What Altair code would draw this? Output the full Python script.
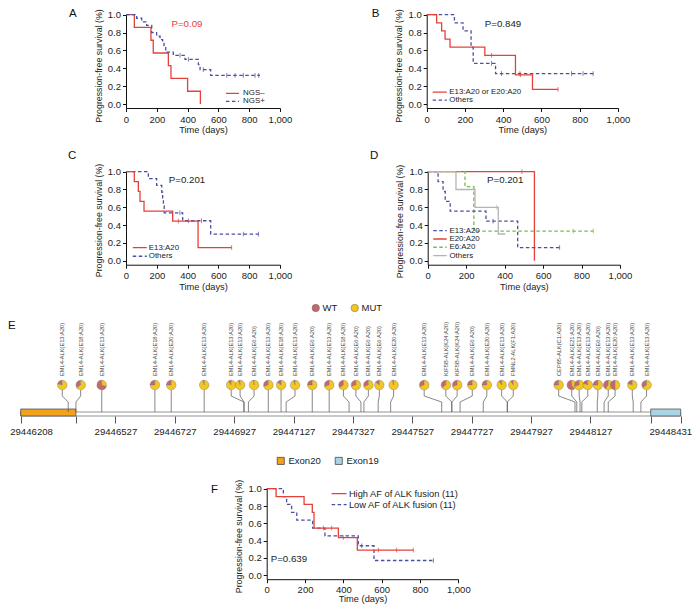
import altair as alt
import pandas as pd

# ---------------- data ----------------
time_ticks = [0, 200, 400, 600, 800, 1000]
surv_ticks = [0.0, 0.2, 0.4, 0.6, 0.8, 1.0]

# Panel A
a_neg_t = [0, 54, 162, 177, 275, 292, 400, 483]
a_neg_s = [1.0, 0.857, 0.714, 0.571, 0.429, 0.286, 0.143, 0.0]
a_neg_ct, a_neg_cs = [], []
a_pos_t = [0, 69, 102, 134, 167, 199, 221, 238, 247, 258, 307, 383, 470, 481, 550, 870]
a_pos_s = [1.0, 0.96, 0.92, 0.88, 0.80, 0.76, 0.72, 0.68, 0.64, 0.58, 0.545, 0.50, 0.44, 0.385, 0.32, 0.32]
a_pos_ct = [351, 405, 502, 654, 708, 762, 838, 862]
a_pos_cs = [0.545, 0.50, 0.385, 0.32, 0.32, 0.32, 0.32, 0.32]

# Panel B
b_red_t = [0, 52, 78, 96, 122, 304, 464, 553, 687]
b_red_s = [1.0, 0.909, 0.818, 0.727, 0.636, 0.545, 0.327, 0.164, 0.164]
b_red_ct = [339, 490, 687]
b_red_cs = [0.545, 0.327, 0.164]
b_oth_t = [0, 145, 190, 232, 243, 360, 870]
b_oth_s = [1.0, 0.909, 0.818, 0.636, 0.455, 0.341, 0.341]
b_oth_ct = [339, 391, 487, 757, 817, 870]
b_oth_cs = [0.455, 0.341, 0.341, 0.341, 0.341, 0.341]

# Panel C
c_e13_t = [0, 54, 80, 91, 117, 303, 468, 686]
c_e13_s = [1.0, 0.889, 0.778, 0.667, 0.556, 0.444, 0.148, 0.148]
c_e13_ct = [340, 686]
c_e13_cs = [0.444, 0.148]
c_oth_t = [0, 145, 199, 232, 238, 243, 248, 368, 550, 860]
c_oth_s = [1.0, 0.923, 0.846, 0.769, 0.692, 0.615, 0.538, 0.449, 0.299, 0.299]
c_oth_ct = [350, 405, 490, 762, 860]
c_oth_cs = [0.538, 0.449, 0.449, 0.299, 0.299]

# Panel D
d_e20_t = [0, 555]
d_e20_s = [1.0, 0.0]
d_e20_ct = [490]
d_e20_cs = [1.0]
d_e6_t = [0, 194, 240, 861]
d_e6_s = [1.0, 0.833, 0.333, 0.333]
d_e6_ct = [757, 861]
d_e6_cs = [0.333, 0.333]
d_e13_t = c_e13_t
d_e13_s = c_e13_s
d_e13_ct = c_e13_ct
d_e13_cs = c_e13_cs
d_oth_t = [0, 147, 246, 367, 404]
d_oth_s = [1.0, 0.8, 0.6, 0.3, 0.3]
d_oth_ct = [359]
d_oth_cs = [0.6]

# Panel F
f_high_t = [0, 49, 195, 238, 247, 374, 473, 765]
f_high_s = [1.0, 0.909, 0.818, 0.727, 0.545, 0.436, 0.291, 0.291]
f_high_ct = [296, 339, 400, 583, 678, 765]
f_high_cs = [0.545, 0.545, 0.436, 0.291, 0.291, 0.291]
f_low_t = [0, 87, 104, 130, 157, 240, 304, 478, 560, 870]
f_low_s = [1.0, 0.909, 0.818, 0.727, 0.636, 0.545, 0.455, 0.341, 0.171, 0.171]
f_low_ct = [496, 870]
f_low_cs = [0.341, 0.171]

# Panel E (gene map)
e_domain = [29446208, 29448431]
e_tick_labels = [29446208, 29446527, 29446727, 29446927, 29447127,
                 29447327, 29447527, 29447727, 29447927, 29448127, 29448431]
e_tick_blank = [29446394, 29448330]
exon_names = ["Exon20", "Exon19"]
exon_start = [29446208, 29448330]
exon_end = [29446394, 29448431]
fusion_labels = [
    "EML4-ALK(E13:A20)", "EML4-ALK(E18:A20)", "EML4-ALK(E13:A20)",
    "EML4-ALK(E18:A20)", "EML4-ALK(E20:A20)", "EML4-ALK(E13:A20)",
    "EML4-ALK(E13:A20)", "EML4-ALK(E13:A20)", "EML4-ALK(E6:A20)",
    "EML4-ALK(E13:A20)", "EML4-ALK(E18:A20)", "EML4-ALK(E13:A20)",
    "EML4-ALK(E6:A20)", "EML4-ALK(E13:A20)", "EML4-ALK(E18:A20)",
    "EML4-ALK(E6:A20)", "EML4-ALK(E6:A20)", "EML4-ALK(E6:A20)",
    "EML4-ALK(E20:A20)", "EML4-ALK(E13:A20)", "KIF5B-ALK(K24:A20)",
    "KIF5B-ALK(K24:A20)", "EML4-ALK(E6:A20)", "EML4-ALK(E20:A20)",
    "EML4-ALK(E13:A20)", "FMNL2-ALK(F1:A20)", "CEP85-ALK(C1:A20)",
    "EML4-ALK(E21:A20)", "EML4-ALK(E13:A20)", "EML4-ALK(E13:A20)",
    "EML4-ALK(E6:A20)", "EML4-ALK(E13:A20)", "EML4-ALK(E20:A20)",
    "EML4-ALK(E13:A20)", "EML4-ALK(E13:A20)",
]
fusion_pos = [29446348, 29446410, 29446481, 29446660, 29446715, 29446826, 29446917,
              29446947, 29446994, 29447042, 29447085, 29447132, 29447190, 29447247,
              29447295, 29447337, 29447379, 29447416, 29447464, 29447567, 29447640,
              29447678, 29447729, 29447778, 29447828, 29447867, 29448020, 29448064,
              29448089, 29448118, 29448152, 29448187, 29448210, 29448268, 29448316]
fusion_site = [29446368, 29446394, 29446481, 29446660, 29446715, 29446826, 29446960,
               29446960, 29446975, 29447042, 29447085, 29447102, 29447190, 29447247,
               29447314, 29447354, 29447364, 29447412, 29447454, 29447626, 29447660,
               29447660, 29447688, 29447766, 29447847, 29447847, 29448075, 29448081,
               29448092, 29448098, 29448150, 29448173, 29448187, 29448271, 29448297]
fusion_wt = [0.22, 0.35, 0.70, 0.25, 0.25, 0.05, 0.10, 0.05, 0.03, 0.30, 0.15, 0.05,
             0.25, 0.30, 0.35, 0.30, 0.30, 0.15, 0.05, 0.30, 0.35, 0.30, 0.25, 0.25,
             0.10, 0.10, 0.25, 0.60, 0.30, 0.20, 0.25, 0.40, 0.50, 0.20, 0.35]

# ---------------- style / layout ----------------
OFF = 8
W, H = 684, 597
FONT = "Liberation Sans"
RED = "#e5403a"
BLUE = "#4b4fa3"
GREEN = "#72bf45"
GRAY = "#b4b4b4"
INK = "#222222"
WT_COL = "#c9666b"
MUT_COL = "#f3c620"
EX20 = "#f4a11c"
EX19 = "#a9d4e4"
SOLID = [1, 0]
DASH = [3.5, 2.5]


def px(v):
    return v - OFF


def panel(geom, curves, ptext, pcolor, palign, pxy, letter, letter_xy, legx,
          ytitle_c, leg_fs=7.9, lab_pad=2.5, title_pad=2):
    x0, x1, y1, y0 = geom
    unit = y0 - y1
    ybot = y0 + 0.045 * unit
    xs = alt.Scale(domain=[0, 1000], range=[px(x0), px(x1)], nice=False, zero=False)
    ys = alt.Scale(domain=[-0.045, 1.0], range=[px(ybot), px(y1)], nice=False, zero=False)
    xax = alt.Axis(orient="bottom", values=time_ticks, format=",",
                   labelExpr="format(datum.value, ',')", title="Time (days)",
                   offset=px(ybot) - H, tickSize=3.5, labelPadding=lab_pad,
                   titlePadding=title_pad, grid=False, labelOverlap=False, labelFlush=False)
    yax = alt.Axis(orient="left", values=surv_ticks, format=".1f",
                   labelExpr="format(datum.value, '.1f')",
                   title="Progression-free survival (%)", titleFontSize=8.8,
                   titleY=px(ytitle_c),
                   offset=-px(x0), tickSize=3.5, labelPadding=2, titlePadding=4,
                   grid=False, labelOverlap=False, labelFlush=False)

    def X(f):
        return alt.X(f, scale=xs, axis=None)

    def Y(f):
        return alt.Y(f, scale=ys, axis=None)

    layers = [
        alt.Chart(pd.DataFrame({"t": [0, 1000], "s": [0.0, 1.0]}))
        .mark_point(opacity=0)
        .encode(x=alt.X("t:Q", scale=xs, axis=xax), y=alt.Y("s:Q", scale=ys, axis=yax))
    ]
    for c in curves:
        df = pd.DataFrame({"t": c["t"], "s": c["s"]})
        layers.append(
            alt.Chart(df).mark_line(interpolate="step-after", color=c["color"],
                                    strokeDash=c["dash"], strokeWidth=1.3)
            .encode(x=X("t:Q"), y=Y("s:Q"))
        )
        if c["ct"]:
            cdf = pd.DataFrame({"t": c["ct"], "s": c["cs"]})
            layers.append(
                alt.Chart(cdf).mark_point(shape="M0,-1L0,1", size=22, filled=False,
                                          color=c["color"], strokeWidth=1)
                .encode(x=X("t:Q"), y=Y("s:Q"))
            )
        ldf = pd.DataFrame({"a": [legx[0]], "b": [legx[1]], "tx": [legx[2]],
                            "s": [c["ls"]], "lab": [c["label"]]})
        layers.append(
            alt.Chart(ldf).mark_rule(color=c["color"], strokeDash=c["dash"], strokeWidth=1.3)
            .encode(x=X("a:Q"), x2="b:Q", y=Y("s:Q"))
        )
        layers.append(
            alt.Chart(ldf).mark_text(align="left", baseline="middle", fontSize=leg_fs,
                                     font=FONT, color=INK)
            .encode(x=X("tx:Q"), y=Y("s:Q"), text="lab:N")
        )
    pdf = pd.DataFrame({"t": [pxy[0]], "s": [pxy[1]], "lab": [ptext]})
    layers.append(
        alt.Chart(pdf).mark_text(align=palign, baseline="middle", fontSize=9.7,
                                 font=FONT, color=pcolor)
        .encode(x=X("t:Q"), y=Y("s:Q"), text="lab:N")
    )
    ldf = pd.DataFrame({"lab": [letter]})
    layers.append(
        alt.Chart(ldf).mark_text(align="left", baseline="alphabetic", fontSize=11.5,
                                 font=FONT, color="#111")
        .encode(x=alt.value(px(letter_xy[0])), y=alt.value(px(letter_xy[1])), text="lab:N")
    )
    return layers


def curve(t, s, ct, cs, color, dash, label, ls):
    return dict(t=t, s=s, ct=ct, cs=cs, color=color, dash=dash, label=label, ls=ls)


pA = panel((126, 280, 14.7, 104),
           [curve(a_neg_t, a_neg_s, a_neg_ct, a_neg_cs, RED, SOLID, "NGS\u2013", 0.118),
            curve(a_pos_t, a_pos_s, a_pos_ct, a_pos_cs, BLUE, DASH, "NGS+", 0.030)],
           "P=0.09", RED, "center", (396, 0.9), "A", (69, 16.5), (649, 734, 760), 65.5)
pB = panel((426.7, 618, 14.7, 104),
           [curve(b_oth_t, b_oth_s, b_oth_ct, b_oth_cs, BLUE, DASH, "Others", 0.043),
            curve(b_red_t, b_red_s, b_red_ct, b_red_cs, RED, SOLID, "E13:A20 or E20:A20", 0.134)],
           "P=0.849", INK, "center", (399, 0.9), "B", (371.7, 16.5), (31, 105, 118), 65.5)
pC = panel((126, 280, 171.7, 260.7),
           [curve(c_oth_t, c_oth_s, c_oth_ct, c_oth_cs, BLUE, DASH, "Others", 0.050),
            curve(c_e13_t, c_e13_s, c_e13_ct, c_e13_cs, RED, SOLID, "E13:A20", 0.146)],
           "P=0.201", INK, "center", (396, 0.907), "C", (68, 159), (44, 135, 148), 220)
pD = panel((427.7, 620, 171.7, 260.7),
           [curve(d_e20_t, d_e20_s, d_e20_ct, d_e20_cs, RED, SOLID, "E20:A20", 0.244),
            curve(d_e6_t, d_e6_s, d_e6_ct, d_e6_cs, GREEN, DASH, "E6:A20", 0.151),
            curve(d_e13_t, d_e13_s, d_e13_ct, d_e13_cs, BLUE, DASH, "E13:A20", 0.337),
            curve(d_oth_t, d_oth_s, d_oth_ct, d_oth_cs, GRAY, SOLID, "Others", 0.056)],
           "P=0.201", INK, "center", (403, 0.907), "D", (370, 159), (29, 99, 113), 221)
pF = panel((266.7, 458.3, 488.7, 575.3),
           [curve(f_low_t, f_low_s, f_low_ct, f_low_cs, BLUE, DASH, "Low  AF of ALK fusion (11)", 0.815),
            curve(f_high_t, f_high_s, f_high_ct, f_high_cs, RED, SOLID, "High  AF of ALK fusion (11)", 0.942)],
           "P=0.639", INK, "left", (21, 0.192), "F", (211, 493), (339, 417, 429), 536,
           leg_fs=9.3, lab_pad=1.5, title_pad=1)

# ---------------- panel E ----------------
ex = alt.Scale(domain=e_domain, range=[px(20.7), px(680.7)], nice=False, zero=False)
blank_test = " || ".join(f"datum.value == {v}" for v in e_tick_blank)
e_axis = alt.Axis(orient="bottom", values=sorted(e_tick_labels + e_tick_blank), format="d",
                  labelExpr=f"({blank_test}) ? '' : format(datum.value, 'd')",
                  offset=px(416) - H, tickSize=7, tickColor="#555", domain=False,
                  labelFontSize=9.6, labelPadding=3, labelColor=INK, grid=False, title=None,
                  labelOverlap=False, labelFlush=True, labelFlushOffset=11)


def EX(f):
    return alt.X(f, scale=ex, axis=None, stack=None)


fus = pd.DataFrame({"lab": fusion_labels, "pos": fusion_pos, "site": fusion_site,
                    "wt": fusion_wt})
pie_rows = []
for p, w in zip(fusion_pos, fusion_wt):
    pie_rows.append({"pos": p, "type": "WT", "t0": 1 - w, "t1": 1.0})
    pie_rows.append({"pos": p, "type": "MUT", "t0": 0.0, "t1": 1 - w})
pies = pd.DataFrame(pie_rows)

intron = alt.Chart(pd.DataFrame({"a": [e_domain[0]], "b": [e_domain[1]]})).mark_rect(
    fill="white", stroke="#777", strokeWidth=0.8).encode(
    x=alt.X("a:Q", scale=ex, axis=e_axis), x2="b:Q", y=alt.value(px(412)), y2=alt.value(px(416)))

exons = alt.Chart(pd.DataFrame({"name": exon_names, "a": exon_start, "b": exon_end})).mark_rect(
    stroke="#444", strokeWidth=0.7).encode(
    x=EX("a:Q"), x2="b:Q", y=alt.value(px(409)), y2=alt.value(px(416)),
    color=alt.Color("name:N", scale=alt.Scale(domain=exon_names, range=[EX20, EX19]),
                    legend=alt.Legend(orient="none", legendX=px(276), legendY=px(456),
                                      direction="horizontal", title=None, symbolType="square",
                                      symbolSize=50, symbolStrokeColor="#333",
                                      symbolStrokeWidth=0.7, labelFontSize=9.5,
                                      labelFont=FONT, labelColor=INK, columnPadding=12,
                                      labelOffset=3)))

stem1 = alt.Chart(fus).mark_rule(color="#555", strokeWidth=0.7).encode(
    x=EX("pos:Q"), y=alt.value(px(390)), y2=alt.value(px(396)))
stem2 = alt.Chart(fus).mark_rule(color="#555", strokeWidth=0.7).encode(
    x=EX("pos:Q"), x2="site:Q", y=alt.value(px(396)), y2=alt.value(px(402)))
stem3 = alt.Chart(fus).mark_rule(color="#555", strokeWidth=0.7).encode(
    x=EX("site:Q"), y=alt.value(px(402)), y2=alt.value(px(412)))

pie_layer = alt.Chart(pies).mark_arc(radius=4.8, stroke="#777", strokeWidth=0.4).encode(
    x=EX("pos:Q"), y=alt.value(px(385)),
    theta=alt.Theta("t0:Q", stack=None, scale=alt.Scale(domain=[0, 1], range=[0, 6.283185])),
    theta2="t1:Q",
    color=alt.Color("type:N", scale=alt.Scale(domain=["WT", "MUT"], range=[WT_COL, MUT_COL]),
                    legend=alt.Legend(orient="none", legendX=px(311), legendY=px(303),
                                      direction="horizontal", title=None, symbolType="circle",
                                      symbolSize=55, symbolStrokeColor="#666",
                                      symbolStrokeWidth=0.5, labelFontSize=9.5,
                                      labelFont=FONT, labelColor=INK, columnPadding=12,
                                      labelOffset=2)))

fus_text = alt.Chart(fus).mark_text(angle=270, align="left", baseline="middle", fontSize=5.7,
                                    font=FONT, color="#444").encode(
    x=EX("pos:Q"), y=alt.value(px(376)), text="lab:N")

e_letter = alt.Chart(pd.DataFrame({"lab": ["E"]})).mark_text(
    align="left", baseline="alphabetic", fontSize=11.5, font=FONT, color="#111").encode(
    x=alt.value(0), y=alt.value(px(329)), text="lab:N")

pE = [intron, exons, stem1, stem2, stem3, pie_layer, fus_text, e_letter]

all_layers = pA + pB + pC + pD + pE + pF

chart = alt.layer(*all_layers).resolve_scale(
    x="independent", y="independent", color="independent", theta="independent"
).resolve_axis(x="independent", y="independent").resolve_legend(color="independent").properties(
    width=W, height=H, autosize=alt.AutoSizeParams(type="none"), padding=0,
    background="white"
).configure_view(strokeWidth=0).configure_axis(
    labelFont=FONT, titleFont=FONT, labelFontSize=9.5, titleFontSize=9.3,
    titleFontWeight="normal", labelColor=INK, titleColor=INK, domainColor="#111",
    tickColor="#111", domainWidth=1, tickWidth=1
)

chart.save("out.html", embed_options={"renderer": "svg", "actions": False})
